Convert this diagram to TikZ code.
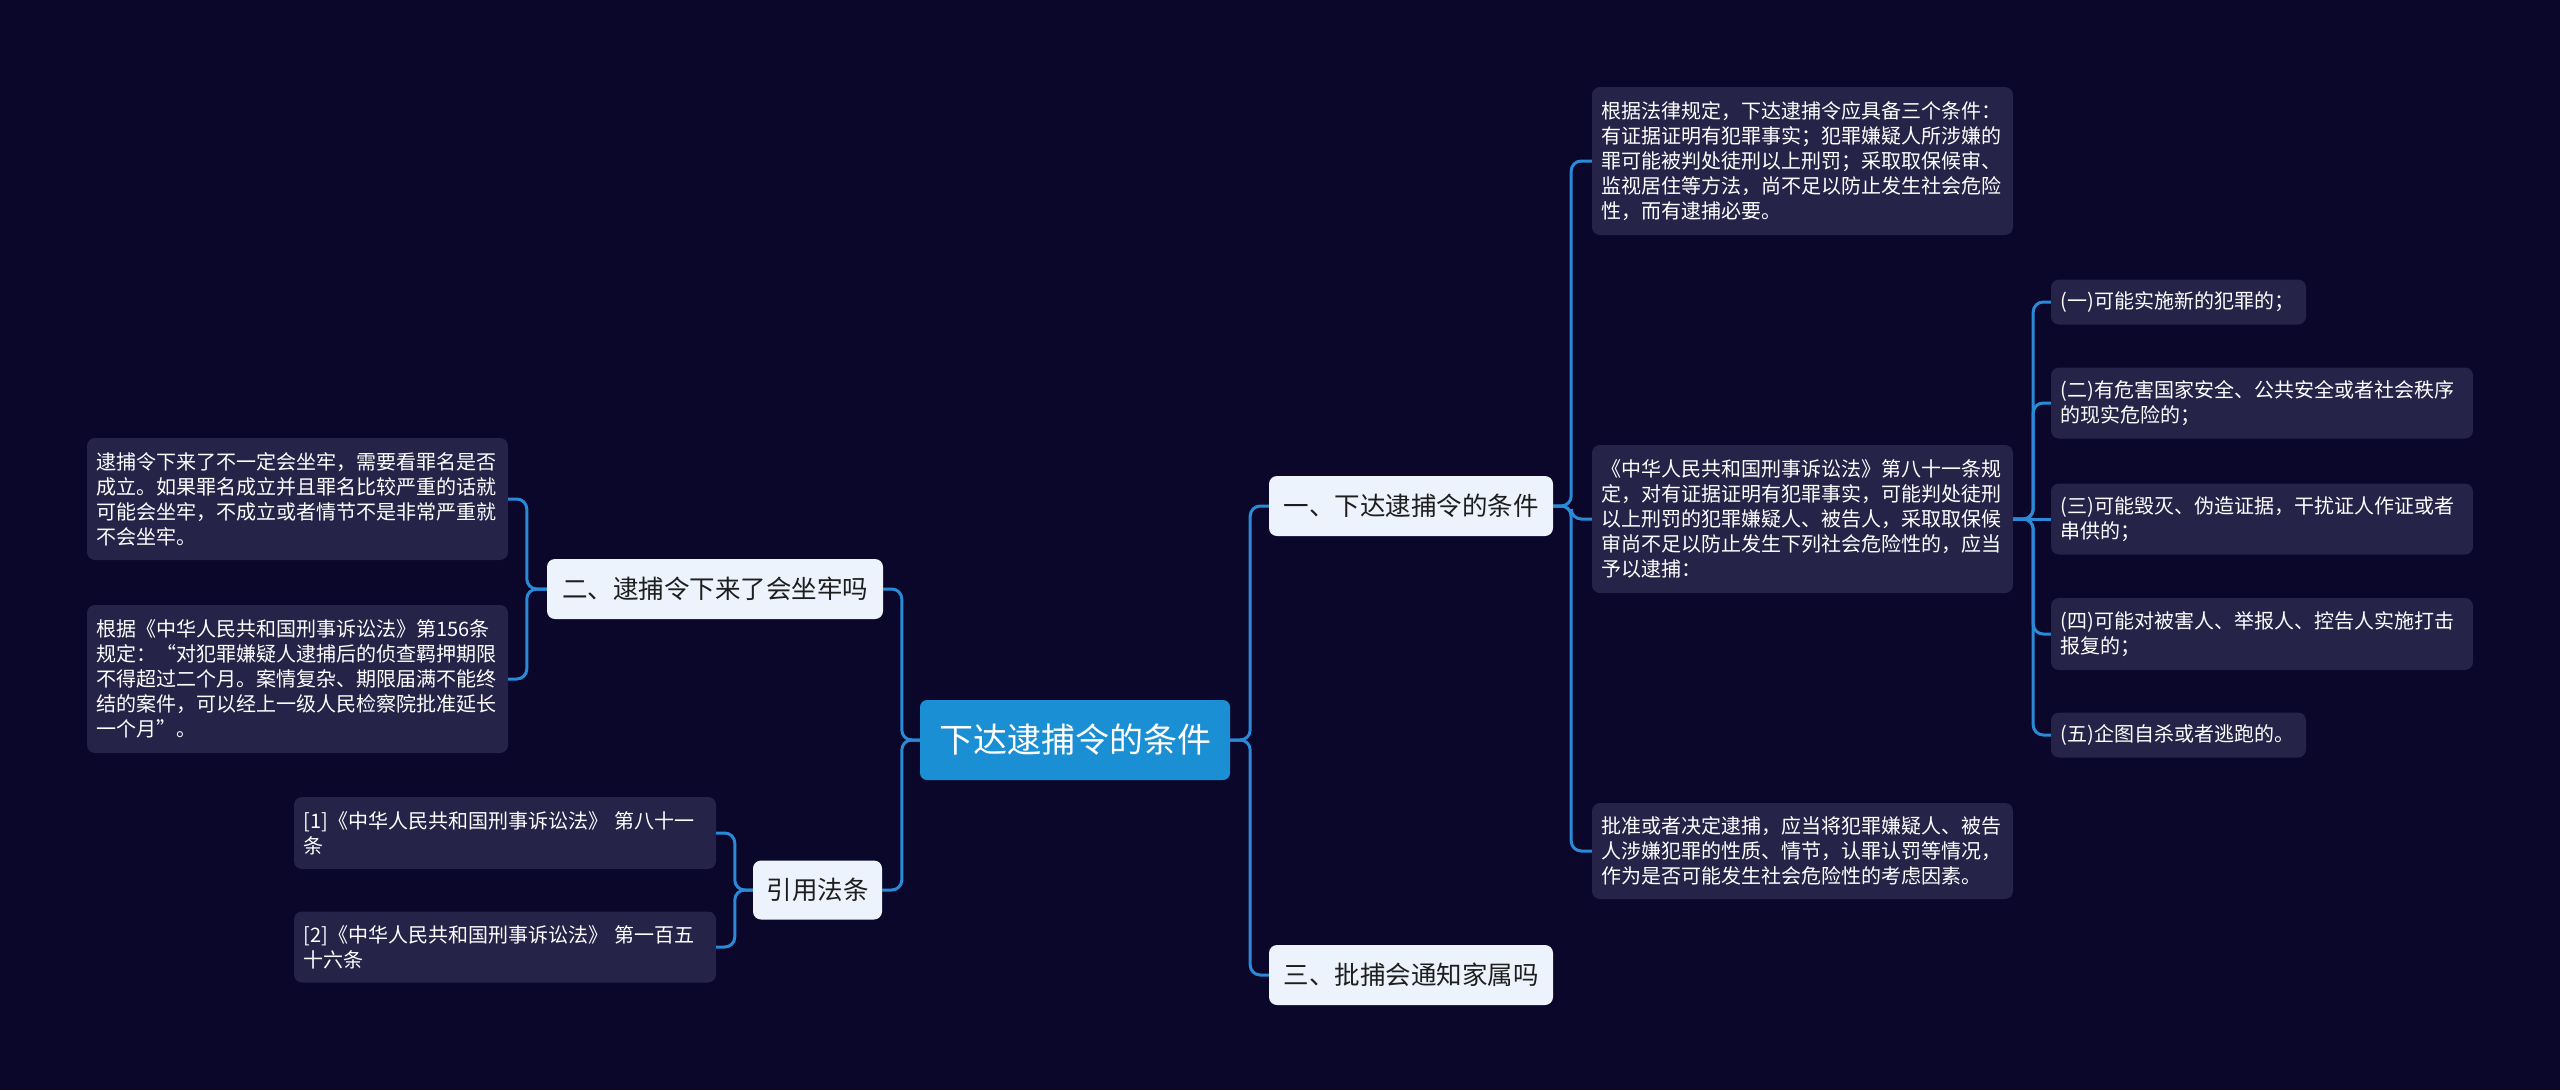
\documentclass[tikz,border=0pt]{standalone}
\usepackage{fontspec}
\setmainfont{Noto Sans CJK SC}
\definecolor{bg}{HTML}{0A072B}
\definecolor{leaffill}{HTML}{262348}
\definecolor{lvfill}{HTML}{EDF3FC}
\definecolor{rootfill}{HTML}{1A8FD4}
\definecolor{linec}{HTML}{2B8AD8}
\definecolor{lvtext}{HTML}{1E1E1E}
\begin{document}
\begin{tikzpicture}[x=1pt,y=-1pt,
  leaf/.style={fill=leaffill, text=white, rounded corners=8pt, align=left,
    text width=#1, inner xsep=9.5pt, inner ysep=0pt,
    font=\fontsize{20}{25}\selectfont},
  lvone/.style={fill=lvfill, text=lvtext, rounded corners=8pt, align=center,
    inner sep=0pt, minimum height=60pt, font=\fontsize{25.5}{30}\selectfont},
  rootbox/.style={fill=rootfill, text=white, rounded corners=7pt, align=center,
    inner sep=0pt, minimum width=310pt, minimum height=80pt, font=\fontsize{34}{40}\selectfont},
  conn/.style={draw=linec, line width=3pt, rounded corners=10pt}]
\fill[bg] (0,0) rectangle (2560,1090);
\useasboundingbox (0,0) rectangle (2560,1090);

% root and level one
\node[rootbox] (c) at (1075,740) {下达逮捕令的条件};
\node[lvone, minimum width=284pt] (n1) at (1411,506) {一、下达逮捕令的条件};
\node[lvone, minimum width=284pt] (n3) at (1411,975) {三、批捕会通知家属吗};
\node[lvone, minimum width=336pt] (n2) at (715,589) {二、逮捕令下来了会坐牢吗};
\node[lvone, minimum width=129pt, minimum height=59pt] (n4) at (817.5,890) {引用法条};

% right leaves
\node[leaf=402pt, minimum height=148pt] (A) at (1802.5,161) {根据法律规定，下达逮捕令应具备三个条件：\\有证据证明有犯罪事实；犯罪嫌疑人所涉嫌的\\罪可能被判处徒刑以上刑罚；采取取保候审、\\监视居住等方法，尚不足以防止发生社会危险\\性，而有逮捕必要。};
\node[leaf=402pt, minimum height=148pt] (B) at (1802.5,519) {《中华人民共和国刑事诉讼法》第八十一条规\\定，对有证据证明有犯罪事实，可能判处徒刑\\以上刑罚的犯罪嫌疑人、被告人，采取取保候\\审尚不足以防止发生下列社会危险性的，应当\\予以逮捕：};
\node[leaf=402pt, minimum height=96pt] (C) at (1802.5,851) {批准或者决定逮捕，应当将犯罪嫌疑人、被告\\人涉嫌犯罪的性质、情节，认罪认罚等情况，\\作为是否可能发生社会危险性的考虑因素。};

\node[leaf=236pt, minimum height=45pt] (r1) at (2178.5,302) {(一)可能实施新的犯罪的；};
\node[leaf=403pt, minimum height=71pt] (r2) at (2262,403) {(二)有危害国家安全、公共安全或者社会秩序\\的现实危险的；};
\node[leaf=403pt, minimum height=71pt] (r3) at (2262,519) {(三)可能毁灭、伪造证据，干扰证人作证或者\\串供的；};
\node[leaf=403pt, minimum height=72pt] (r4) at (2262,634) {(四)可能对被害人、举报人、控告人实施打击\\报复的；};
\node[leaf=236pt, minimum height=45pt] (r5) at (2178.5,735) {(五)企图自杀或者逃跑的。};

% left leaves
\node[leaf=402pt, minimum height=122pt] (L1) at (297.5,499) {逮捕令下来了不一定会坐牢，需要看罪名是否\\成立。如果罪名成立并且罪名比较严重的话就\\可能会坐牢，不成立或者情节不是非常严重就\\不会坐牢。};
\node[leaf=402pt, minimum height=148pt] (L2) at (297.5,679) {根据《中华人民共和国刑事诉讼法》第156条\\规定：“对犯罪嫌疑人逮捕后的侦查羁押期限\\不得超过二个月。案情复杂、期限届满不能终\\结的案件，可以经上一级人民检察院批准延长\\一个月”。};
\node[leaf=403pt, minimum height=72pt] (R1) at (505,833) {[1]《中华人民共和国刑事诉讼法》 第八十一\\条};
\node[leaf=403pt, minimum height=71pt] (R2) at (505,947) {[2]《中华人民共和国刑事诉讼法》 第一百五\\十六条};

% connectors
\draw[conn] (c.east) -- ++(20,0) |- (n1.west);
\draw[conn] (c.east) -- ++(20,0) |- (n3.west);
\draw[conn] (c.west) -- ++(-18,0) |- (n2.east);
\draw[conn] (c.west) -- ++(-18,0) |- (n4.east);

\draw[conn] (n1.east) -- ++(18,0) |- (A.west);
\draw[conn] (n1.east) -- ++(18,0) |- (B.west);
\draw[conn] (n1.east) -- ++(18,0) |- (C.west);

\draw[conn] (B.east) -- ++(20,0) |- (r1.west);
\draw[conn] (B.east) -- ++(20,0) |- (r2.west);
\draw[conn] (B.east) -- (r3.west);
\draw[conn] (B.east) -- ++(20,0) |- (r4.west);
\draw[conn] (B.east) -- ++(20,0) |- (r5.west);

\draw[conn] (n2.west) -- ++(-20,0) |- (L1.east);
\draw[conn] (n2.west) -- ++(-20,0) |- (L2.east);

\draw[conn] (n4.west) -- ++(-18,0) |- (R1.east);
\draw[conn] (n4.west) -- ++(-18,0) |- (R2.east);
\end{tikzpicture}
\end{document}
